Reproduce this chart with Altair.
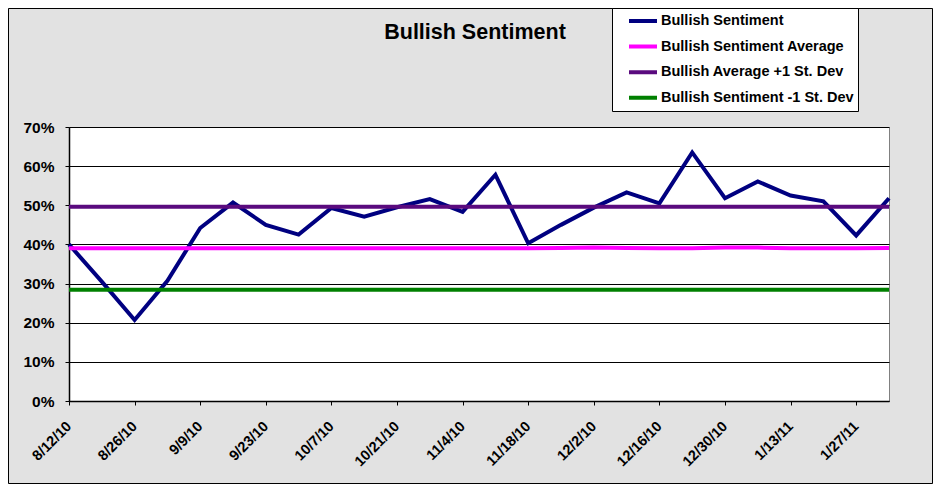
import altair as alt
import pandas as pd

dates = ["8/12/10", "8/19/10", "8/26/10", "9/2/10", "9/9/10", "9/16/10", "9/23/10",
         "9/30/10", "10/7/10", "10/14/10", "10/21/10", "10/28/10", "11/4/10", "11/11/10",
         "11/18/10", "11/25/10", "12/2/10", "12/9/10", "12/16/10", "12/23/10", "12/30/10",
         "1/6/11", "1/13/11", "1/20/11", "1/27/11", "2/3/11"]

bullish = [40.0, 30.5, 20.7, 30.7, 44.2, 50.7, 45.0, 42.5, 49.3, 47.1, 49.5, 51.6, 48.3,
           57.8, 40.3, 45.0, 49.4, 53.3, 50.5, 63.5, 51.8, 56.1, 52.5, 51.0, 42.3, 51.8]
average = [39.0, 39.0, 39.0, 39.0, 39.0, 39.0, 39.0, 39.0, 39.0, 39.0, 39.0, 39.0, 39.0,
           39.0, 39.0, 39.1, 39.2, 39.1, 39.0, 39.0, 39.2, 39.2, 39.0, 39.0, 39.0, 39.1]
plus_sd = [49.6, 49.6, 49.6, 49.6, 49.6, 49.6, 49.6, 49.6, 49.6, 49.6, 49.6, 49.6, 49.6,
           49.6, 49.6, 49.6, 49.6, 49.6, 49.6, 49.6, 49.6, 49.6, 49.6, 49.6, 49.6, 49.6]
minus_sd = [28.4, 28.4, 28.4, 28.4, 28.4, 28.4, 28.4, 28.4, 28.4, 28.4, 28.4, 28.4, 28.4,
            28.4, 28.4, 28.4, 28.4, 28.4, 28.4, 28.4, 28.4, 28.4, 28.4, 28.4, 28.4, 28.4]

series_names = ["Bullish Sentiment", "Bullish Sentiment Average",
                "Bullish Average +1 St. Dev", "Bullish Sentiment -1 St. Dev"]
series_colors = ["#000080", "#FF00FF", "#5A0A7E", "#008000"]

x_tick_labels = ["8/12/10", "8/26/10", "9/9/10", "9/23/10", "10/7/10", "10/21/10",
                 "11/4/10", "11/18/10", "12/2/10", "12/16/10", "12/30/10", "1/13/11", "1/27/11"]
y_ticks = [0, 0.1, 0.2, 0.3, 0.4, 0.5, 0.6, 0.7]

rows = []
for name, vals in zip(series_names, [bullish, average, plus_sd, minus_sd]):
    for d, v in zip(dates, vals):
        rows.append({"date": d, "series": name, "value": v / 100})
df = pd.DataFrame(rows)

FONT = "Liberation Sans"

lines = alt.Chart(df).mark_line(strokeWidth=4).encode(
    x=alt.X("date:O", sort=dates,
            scale=alt.Scale(type="point", padding=0),
            axis=alt.Axis(values=x_tick_labels, title=None, labelAngle=-45,
                          labelAlign="right", labelBaseline="middle",
                          labelFont=FONT, labelFontSize=14.5, labelFontWeight="bold",
                          labelColor="black", labelPadding=19,
                          tickSize=4, tickColor="black", tickWidth=1,
                          domainColor="black", domainWidth=1.5, grid=False)),
    y=alt.Y("value:Q", scale=alt.Scale(domain=[0, 0.7], nice=False),
            axis=alt.Axis(values=y_ticks, format=".0%", title=None,
                          labelFont=FONT, labelFontSize=15.5, labelFontWeight="bold",
                          labelColor="black", labelPadding=11,
                          tickSize=4, tickColor="black", tickWidth=1,
                          domainColor="black", domainWidth=1.5,
                          grid=True, gridColor="black", gridWidth=1.2)),
    color=alt.Color("series:N", sort=series_names,
                    scale=alt.Scale(domain=series_names, range=series_colors),
                    legend=alt.Legend(title=None, orient="none", legendX=543, legendY=-119,
                                      fillColor="white", strokeColor="black",
                                      padding=4, symbolType="stroke", symbolSize=784,
                                      symbolStrokeWidth=4, clipHeight=18, rowPadding=7.6,
                                      symbolOffset=11, labelOffset=2,
                                      labelFont=FONT, labelFontSize=14.5,
                                      labelFontWeight="bold", labelColor="black",
                                      labelLimit=400)),
)

frame = alt.Chart(alt.Data(values=[{}])).mark_rect(
    fill="transparent", stroke="black", strokeWidth=1
).encode(x=alt.value(-60.5), x2=alt.value(863.5), y=alt.value(-118.5), y2=alt.value(356.5))

chart = alt.layer(lines, frame).properties(
    width=820, height=274,
    autosize=alt.AutoSizeParams(type="none"),
    padding={"left": 61, "top": 119, "right": 44, "bottom": 83},
    background="#E2E2E2",
    title=alt.Title("Bullish Sentiment", font=FONT, fontSize=21.5, fontWeight="bold",
                    color="black", anchor="middle", frame="group", baseline="alphabetic",
                    offset=-53, dx=-4),
).configure_view(stroke="#808080", strokeWidth=1, fill="white")

chart.save("out.html", embed_options={"renderer": "svg", "actions": False})
